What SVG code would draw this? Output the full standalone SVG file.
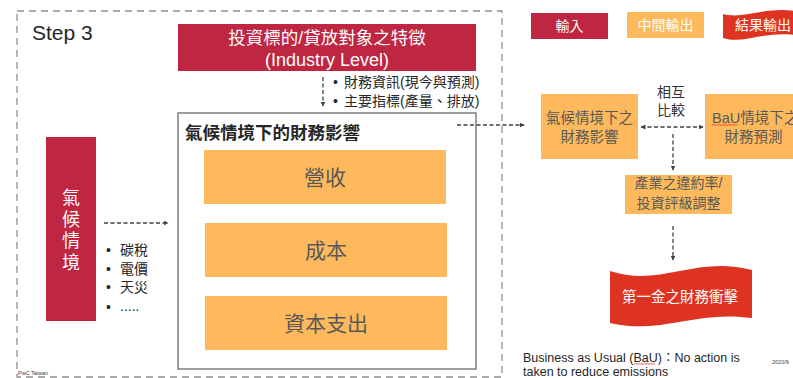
<svg xmlns="http://www.w3.org/2000/svg" width="793" height="378" viewBox="0 0 793 378">
<defs>
<style>
.cjk{font-family:"Liberation Sans","Noto Sans CJK TC",Arial,sans-serif;}
.wt{fill:#ffffff;}
.gt{fill:#595959;}
.dk{fill:#262626;}
.crim{fill:#BE2641;}
.org{fill:#FDB95B;}
.rd{fill:#DF3321;}
.conn{stroke:#404040;stroke-width:1.3;stroke-dasharray:4 2.5;fill:none;}
.sq{stroke:#E0302A;stroke-width:0.8;fill:none;}
</style>
<marker id="ah" viewBox="0 0 10 10" refX="9" refY="5" markerWidth="5" markerHeight="5" orient="auto-start-reverse" markerUnits="userSpaceOnUse">
<path d="M0,0 L10,5 L0,10 Z" fill="#404040"/>
</marker>
</defs>
<rect width="793" height="378" fill="#ffffff"/>

<g id="frame">
<rect x="17" y="11" width="485" height="366" fill="none" stroke="#8f8f8f" stroke-width="1.3" stroke-dasharray="7 5"/>
<text x="32" y="40" font-family="Liberation Sans,Arial,sans-serif" font-size="21" class="dk">Step 3</text>
<text x="18" y="375" font-family="Liberation Sans,Arial,sans-serif" font-size="5.5" fill="#404040">PwC Taiwan</text>
</g>

<g id="industry">
<rect x="178" y="24" width="298" height="47" class="crim"/>
<text x="327" y="44" text-anchor="middle" font-size="17.5" class="cjk wt">投資標的/貸放對象之特徵</text>
<text x="327" y="66" text-anchor="middle" font-size="18" class="cjk wt">(Industry Level)</text>
</g>

<g id="industry-notes" class="cjk dk" font-size="14">
<text x="333" y="87">•</text>
<text x="344" y="87">財務資訊(現今與預測)</text>
<text x="333" y="106">•</text>
<text x="344" y="106">主要指標(產量、排放)</text>
</g>

<g id="impact">
<rect x="178" y="113" width="298" height="256" fill="#ffffff" stroke="#7f7f7f" stroke-width="1.5"/>
<text x="185" y="139" font-size="17.5" font-weight="bold" class="cjk dk">氣候情境下的財務影響</text>
</g>

<g id="revenue">
<rect x="204" y="150" width="242" height="54" class="org"/>
<text x="325" y="184.5" text-anchor="middle" font-size="21" class="cjk gt">營收</text>
</g>
<g id="cost">
<rect x="205" y="223" width="242" height="54" class="org"/>
<text x="326" y="257.5" text-anchor="middle" font-size="21" class="cjk gt">成本</text>
</g>
<g id="capex">
<rect x="205" y="296" width="242" height="54" class="org"/>
<text x="326" y="330.5" text-anchor="middle" font-size="21" class="cjk gt">資本支出</text>
</g>

<g id="scenario">
<rect x="46" y="137" width="50" height="184" class="crim"/>
<g class="cjk wt" font-size="18" text-anchor="middle">
<text x="71" y="203.5">氣</text>
<text x="71" y="225.5">候</text>
<text x="71" y="246.5">情</text>
<text x="71" y="268.5">境</text>
</g>
</g>

<g id="scenario-notes" class="cjk dk" font-size="14">
<text x="106" y="255">•</text><text x="120" y="255">碳稅</text>
<text x="106" y="274">•</text><text x="120" y="274">電價</text>
<text x="106" y="292">•</text><text x="120" y="292">天災</text>
<text x="106" y="312">•</text><text x="120" y="311">.....</text>
</g>

<g id="legend">
<g id="legend-input">
<rect x="531" y="13" width="77" height="26" class="crim"/>
<text x="569.5" y="31" text-anchor="middle" font-size="14" class="cjk wt">輸入</text>
</g>
<g id="legend-mid">
<rect x="627" y="12" width="77" height="26" class="org"/>
<text x="665.5" y="30" text-anchor="middle" font-size="14" class="cjk wt">中間輸出</text>
</g>
<g id="legend-result">
<path d="M723,14 C745,20 765,5 802,12 L802,36 C765,29 745,45 723,38 Z" class="rd"/>
<text x="735" y="30" font-size="14" class="cjk wt">結果輸出</text>
</g>
</g>

<g id="climate-impact">
<rect x="541" y="94" width="97" height="65" class="org"/>
<text x="589.5" y="123" text-anchor="middle" font-size="14.5" class="cjk gt">氣候情境下之</text>
<text x="589.5" y="142" text-anchor="middle" font-size="14.5" class="cjk gt">財務影響</text>
</g>

<g id="bau-forecast">
<rect x="705" y="94" width="97" height="65" class="org"/>
<text x="712" y="123" font-size="14.5" class="cjk gt">BaU情境下之</text>
<path class="sq" d="M712,125.5 l1.5,-1.2 l1.5,1.2 l1.5,-1.2 l1.5,1.2 l1.5,-1.2 l1.5,1.2 l1.5,-1.2 l1.5,1.2 l1.5,-1.2 l1.5,1.2 l1.5,-1.2 l1.5,1.2 l1.5,-1.2 l1.5,1.2 l1.5,-1.2 l1.5,1.2 l1.5,-1.2"/>
<text x="753.5" y="142" text-anchor="middle" font-size="14.5" class="cjk gt">財務預測</text>
</g>

<g id="compare-label" class="cjk" font-size="14" fill="#333333" text-anchor="middle">
<text x="671" y="97">相互</text>
<text x="671" y="115">比較</text>
</g>

<g id="default-rate">
<rect x="625" y="175" width="107" height="39" class="org"/>
<text x="678.5" y="188" text-anchor="middle" font-size="14" class="cjk gt">產業之違約率/</text>
<text x="678.5" y="208" text-anchor="middle" font-size="14" class="cjk gt">投資評級調整</text>
</g>

<g id="result">
<path d="M610,271 C660,288 695,255 752,270 L752,318 C695,310 660,335 610,323 Z" class="rd"/>
<text x="680" y="302" text-anchor="middle" font-size="14.5" class="cjk wt">第一金之財務衝擊</text>
</g>

<g id="footnote">
<text x="523" y="362" font-size="12.5" class="cjk dk">Business as Usual (BaU)：No action is</text>
<text x="523" y="376" font-size="12.5" class="cjk dk">taken to reduce emissions</text>
<path class="sq" d="M634,364.5 l1.5,-1.2 l1.5,1.2 l1.5,-1.2 l1.5,1.2 l1.5,-1.2 l1.5,1.2 l1.5,-1.2 l1.5,1.2 l1.5,-1.2 l1.5,1.2 l1.5,-1.2 l1.5,1.2 l1.5,-1.2 l1.5,1.2"/>
<text x="772" y="364" font-family="Liberation Sans,Arial,sans-serif" font-size="5.5" fill="#404040">2020/9</text>
</g>

<g id="connectors">
<line class="conn" x1="323" y1="77" x2="323" y2="106" marker-end="url(#ah)"/>
<line class="conn" x1="104" y1="223" x2="168" y2="223" marker-end="url(#ah)"/>
<line class="conn" x1="457" y1="125" x2="524" y2="125" marker-end="url(#ah)"/>
<line class="conn" x1="641" y1="127" x2="703" y2="127" marker-start="url(#ah)" marker-end="url(#ah)"/>
<line class="conn" x1="673" y1="134" x2="673" y2="170" marker-end="url(#ah)"/>
<line class="conn" x1="673" y1="226" x2="673" y2="260" marker-end="url(#ah)"/>
</g>
</svg>
